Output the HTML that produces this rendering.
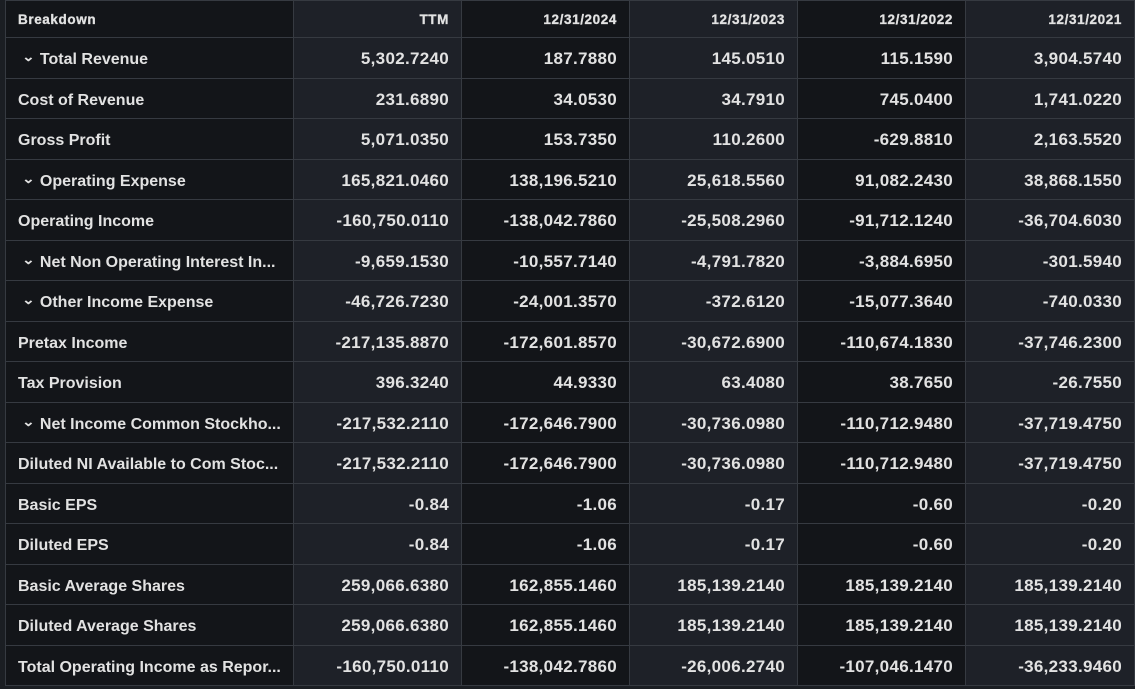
<!DOCTYPE html>
<html><head><meta charset="utf-8"><style>
html,body{margin:0;padding:0;background:#1b1e23;width:1135px;height:689px;overflow:hidden}
table{position:absolute;left:5px;top:0;width:1129px;border-collapse:collapse;table-layout:fixed;font-family:"Liberation Sans",Arial,sans-serif;color:#e2e2e2;font-size:17px;font-weight:bold;letter-spacing:0.3px}
td,th{border:1px solid #363a41;padding:3px 12px 0 12px;height:36.5px;white-space:nowrap;overflow:hidden;text-align:right}
th{height:36px;padding-top:0;font-size:13.5px;font-weight:700;letter-spacing:0.6px;-webkit-text-stroke:0.3px #e2e2e2}
td:first-child,th:first-child{text-align:left;padding-left:12px}
td:first-child{font-size:16px;letter-spacing:0;padding-top:5px;height:34.5px}
tr>*:nth-child(odd){background:#131519}
tr>*:nth-child(even){background:#1e2128}
.c{font-size:13px;display:inline-block;margin:0 6px 0 5px;transform:scaleX(1.2) translateY(-3px)}
</style></head><body>
<table>
<colgroup><col style="width:288px"><col style="width:168px"><col style="width:168px"><col style="width:168px"><col style="width:168px"><col style="width:169px"></colgroup>
<tr><th>Breakdown</th><th>TTM</th><th>12/31/2024</th><th>12/31/2023</th><th>12/31/2022</th><th>12/31/2021</th></tr>
<tr><td><span class="c">⌄</span>Total Revenue</td><td>5,302.7240</td><td>187.7880</td><td>145.0510</td><td>115.1590</td><td>3,904.5740</td></tr>
<tr><td>Cost of Revenue</td><td>231.6890</td><td>34.0530</td><td>34.7910</td><td>745.0400</td><td>1,741.0220</td></tr>
<tr><td>Gross Profit</td><td>5,071.0350</td><td>153.7350</td><td>110.2600</td><td>-629.8810</td><td>2,163.5520</td></tr>
<tr><td><span class="c">⌄</span>Operating Expense</td><td>165,821.0460</td><td>138,196.5210</td><td>25,618.5560</td><td>91,082.2430</td><td>38,868.1550</td></tr>
<tr><td>Operating Income</td><td>-160,750.0110</td><td>-138,042.7860</td><td>-25,508.2960</td><td>-91,712.1240</td><td>-36,704.6030</td></tr>
<tr><td><span class="c">⌄</span>Net Non Operating Interest In...</td><td>-9,659.1530</td><td>-10,557.7140</td><td>-4,791.7820</td><td>-3,884.6950</td><td>-301.5940</td></tr>
<tr><td><span class="c">⌄</span>Other Income Expense</td><td>-46,726.7230</td><td>-24,001.3570</td><td>-372.6120</td><td>-15,077.3640</td><td>-740.0330</td></tr>
<tr><td>Pretax Income</td><td>-217,135.8870</td><td>-172,601.8570</td><td>-30,672.6900</td><td>-110,674.1830</td><td>-37,746.2300</td></tr>
<tr><td>Tax Provision</td><td>396.3240</td><td>44.9330</td><td>63.4080</td><td>38.7650</td><td>-26.7550</td></tr>
<tr><td><span class="c">⌄</span>Net Income Common Stockho...</td><td>-217,532.2110</td><td>-172,646.7900</td><td>-30,736.0980</td><td>-110,712.9480</td><td>-37,719.4750</td></tr>
<tr><td>Diluted NI Available to Com Stoc...</td><td>-217,532.2110</td><td>-172,646.7900</td><td>-30,736.0980</td><td>-110,712.9480</td><td>-37,719.4750</td></tr>
<tr><td>Basic EPS</td><td>-0.84</td><td>-1.06</td><td>-0.17</td><td>-0.60</td><td>-0.20</td></tr>
<tr><td>Diluted EPS</td><td>-0.84</td><td>-1.06</td><td>-0.17</td><td>-0.60</td><td>-0.20</td></tr>
<tr><td>Basic Average Shares</td><td>259,066.6380</td><td>162,855.1460</td><td>185,139.2140</td><td>185,139.2140</td><td>185,139.2140</td></tr>
<tr><td>Diluted Average Shares</td><td>259,066.6380</td><td>162,855.1460</td><td>185,139.2140</td><td>185,139.2140</td><td>185,139.2140</td></tr>
<tr><td>Total Operating Income as Repor...</td><td>-160,750.0110</td><td>-138,042.7860</td><td>-26,006.2740</td><td>-107,046.1470</td><td>-36,233.9460</td></tr>
</table>
</body></html>
